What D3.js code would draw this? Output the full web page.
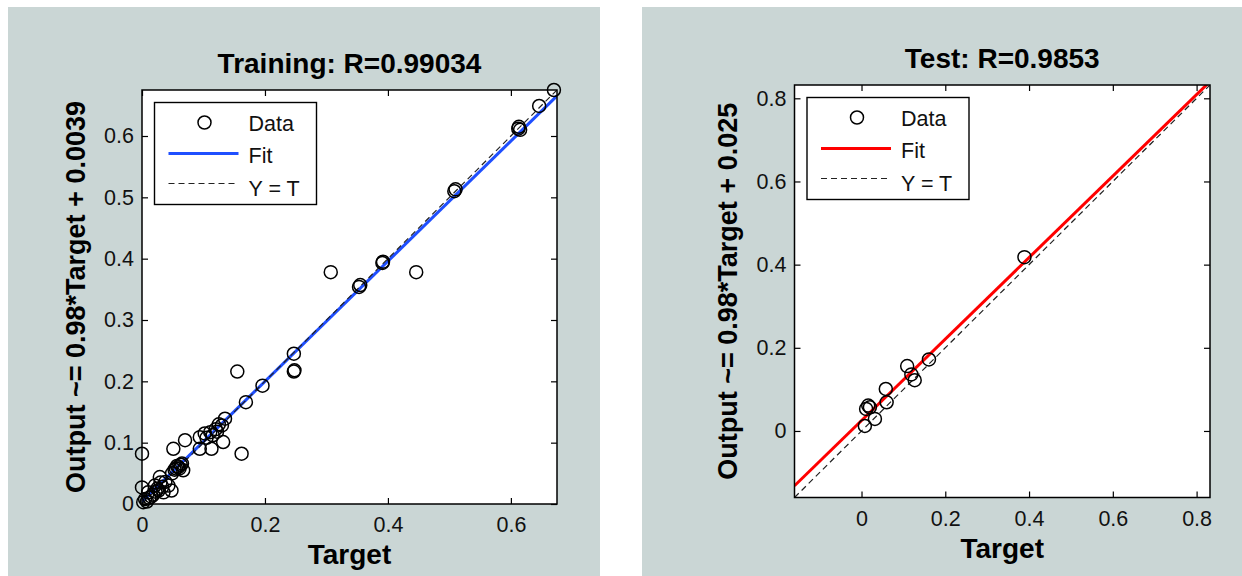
<!DOCTYPE html>
<html>
<head>
<meta charset="utf-8">
<script src="https://cdn.jsdelivr.net/npm/d3@7"></script>
<style>
  body { margin: 0; background: #fff; }
  svg { display: block; font-family: "Liberation Sans", Arial, Helvetica, sans-serif; }
</style>
</head>
<body>
<svg id="chart" width="1242" height="576"></svg>
<script>
// Training set: target vs network output
const trainTarget = [
  0.670, 0.646, 0.612, 0.615, 0.613, 0.508, 0.510, 0.307, 0.353, 0.355,
  0.391, 0.392, 0.446, 0.247, 0.247, 0.248, 0.155, 0.196, 0.169, 0.135,
  0.130, 0.111, 0.102, 0.120, 0.132, 0.113, 0.094, 0.070, 0.051, 0.162,
  0.000, 0.059, 0.067, 0.049, 0.063, 0.055, 0.029, 0.043, 0.021, 0.000,
  0.010, 0.002, 0.035, 0.048, 0.015, 0.025, 0.005, 0.030, 0.094, 0.105,
  0.057, 0.061, 0.065, 0.053, 0.018, 0.022, 0.027, 0.033, 0.012, 0.038,
  0.008, 0.122, 0.115, 0.125
];
const trainOutput = [
  0.675, 0.649, 0.612, 0.610, 0.615, 0.510, 0.513, 0.378, 0.354, 0.357,
  0.393, 0.395, 0.378, 0.245, 0.216, 0.218, 0.216, 0.193, 0.166, 0.139,
  0.128, 0.117, 0.115, 0.122, 0.101, 0.090, 0.090, 0.104, 0.090, 0.082,
  0.082, 0.060, 0.055, 0.050, 0.064, 0.058, 0.044, 0.030, 0.030, 0.027,
  0.019, 0.003, 0.019, 0.022, 0.012, 0.025, 0.008, 0.035, 0.109, 0.108,
  0.062, 0.058, 0.066, 0.056, 0.015, 0.020, 0.022, 0.028, 0.010, 0.036,
  0.004, 0.118, 0.112, 0.130
];

// Test set
const testTarget = [0.389, 0.161, 0.109, 0.119, 0.127, 0.058, 0.060, 0.016, 0.011, 0.032, 0.008, 0.020];
const testOutput = [0.418, 0.172, 0.156, 0.136, 0.122, 0.101, 0.069, 0.061, 0.053, 0.029, 0.012, 0.057];

// regression fits (from the axis labels)
const trainFit = { slope: 0.98, intercept: 0.0039 };
const testFit = { slope: 0.98, intercept: 0.025 };

// axis limits and ticks
const trainLimits = [0, 0.675];
const testLimits = [-0.16, 0.832];
const trainXTicks = [0, 0.2, 0.4, 0.6];
const trainYTicks = [0, 0.1, 0.2, 0.3, 0.4, 0.5, 0.6];
const testTicks = [0, 0.2, 0.4, 0.6, 0.8];

const legendLabels = ["Data", "Fit", "Y = T"];

const svg = d3.select("#chart");

function drawPanel(p) {
  const g = svg.append("g");

  // grey figure background
  g.append("rect")
    .attr("x", p.panel[0]).attr("y", p.panel[1])
    .attr("width", p.panel[2]).attr("height", p.panel[3])
    .attr("fill", "#cad6d5");

  const x = d3.scaleLinear().domain(p.limits).range([p.left, p.right]);
  const y = d3.scaleLinear().domain(p.limits).range([p.bottom, p.top]);

  // white axes area
  g.append("rect")
    .attr("x", p.left).attr("y", p.top)
    .attr("width", p.right - p.left).attr("height", p.bottom - p.top)
    .attr("fill", "#fff");

  const clipId = "clip-" + p.id;
  g.append("clipPath").attr("id", clipId)
    .append("rect")
    .attr("x", p.left).attr("y", p.top)
    .attr("width", p.right - p.left).attr("height", p.bottom - p.top);

  const fmt = d => d === 0 ? "0" : d3.format(".1f")(d);

  // axes with inward ticks on all four sides
  const styleAxis = sel => {
    sel.select(".domain").remove();
    sel.selectAll(".tick line").attr("stroke", "#000").attr("stroke-width", 1.2);
    sel.selectAll(".tick text").attr("fill", "#111").style("font-size", "21.5px");
  };
  g.append("g").attr("transform", `translate(0,${p.bottom})`)
    .call(d3.axisBottom(x).tickValues(p.xTicks).tickFormat(fmt).tickSizeInner(-6).tickSizeOuter(0).tickPadding(13))
    .call(styleAxis);
  g.append("g").attr("transform", `translate(${p.left},0)`)
    .call(d3.axisLeft(y).tickValues(p.yTicks).tickFormat(fmt).tickSizeInner(-6).tickSizeOuter(0).tickPadding(8))
    .call(styleAxis);
  g.append("g").attr("transform", `translate(0,${p.top})`)
    .call(d3.axisTop(x).tickValues(p.xTicks).tickFormat("").tickSizeInner(-6).tickSizeOuter(0))
    .call(styleAxis);
  g.append("g").attr("transform", `translate(${p.right},0)`)
    .call(d3.axisRight(y).tickValues(p.yTicks).tickFormat("").tickSizeInner(-6).tickSizeOuter(0))
    .call(styleAxis);

  // fit line
  const lineGen = d3.line().x(d => x(d[0])).y(d => y(d[1]));
  const fitPts = p.limits.map(t => [t, p.fit.slope * t + p.fit.intercept]);
  g.append("path")
    .attr("clip-path", `url(#${clipId})`)
    .attr("d", lineGen(fitPts))
    .attr("fill", "none").attr("stroke", p.color).attr("stroke-width", 3);

  // Y = T line
  g.append("path")
    .attr("clip-path", `url(#${clipId})`)
    .attr("d", lineGen(p.limits.map(t => [t, t])))
    .attr("fill", "none").attr("stroke", "#222").attr("stroke-width", 1.2)
    .attr("stroke-dasharray", "6,4");

  // data circles
  g.selectAll("circle.pt")
    .data(d3.zip(p.target, p.output))
    .join("circle")
    .attr("class", "pt")
    .attr("cx", d => x(d[0])).attr("cy", d => y(d[1]))
    .attr("r", 6.5)
    .attr("fill", "none").attr("stroke", "#000").attr("stroke-width", 1.5);

  // box
  g.append("rect")
    .attr("x", p.left).attr("y", p.top)
    .attr("width", p.right - p.left).attr("height", p.bottom - p.top)
    .attr("fill", "none").attr("stroke", "#000").attr("stroke-width", 1.5);

  // legend
  const lg = g.append("g").attr("transform", `translate(${p.left + 12.5},${p.top + 12.5})`);
  lg.append("rect").attr("width", 162).attr("height", 102)
    .attr("fill", "#fff").attr("stroke", "#000").attr("stroke-width", 1.4);
  lg.append("circle").attr("cx", 50).attr("cy", 20).attr("r", 6.5)
    .attr("fill", "none").attr("stroke", "#000").attr("stroke-width", 1.5);
  lg.append("line").attr("x1", 14).attr("x2", 84).attr("y1", 51).attr("y2", 51)
    .attr("stroke", p.color).attr("stroke-width", 3);
  lg.append("line").attr("x1", 14).attr("x2", 84).attr("y1", 81).attr("y2", 81)
    .attr("stroke", "#222").attr("stroke-width", 1.2).attr("stroke-dasharray", "6,4");
  lg.selectAll("text")
    .data(legendLabels)
    .join("text")
    .attr("x", 94)
    .attr("y", (d, i) => 28 + i * 32.5)
    .attr("fill", "#111")
    .style("font-size", "21.5px")
    .text(d => d);

  // title & labels
  const cx = (p.left + p.right) / 2;
  g.append("text")
    .attr("x", cx).attr("y", p.top - 17)
    .attr("text-anchor", "middle")
    .style("font-size", "28px").style("font-weight", "bold")
    .text(p.title);
  g.append("text")
    .attr("x", cx).attr("y", p.bottom + 60)
    .attr("text-anchor", "middle")
    .style("font-size", "28px").style("font-weight", "bold")
    .text("Target");
  g.append("text")
    .attr("transform", `translate(${p.ylabelX},${(p.top + p.bottom) / 2}) rotate(-90)`)
    .attr("text-anchor", "middle")
    .style("font-size", "27px").style("font-weight", "bold")
    .text(p.ylabel);
}

drawPanel({
  id: "train",
  panel: [8, 7, 592, 569],
  left: 142, right: 557, top: 90, bottom: 504,
  limits: trainLimits, xTicks: trainXTicks, yTicks: trainYTicks,
  target: trainTarget, output: trainOutput, fit: trainFit,
  color: "#1f4fff",
  title: "Training: R=0.99034",
  ylabel: "Output ~= 0.98*Target + 0.0039",
  ylabelX: 85
});

drawPanel({
  id: "test",
  panel: [642, 7, 600, 569],
  left: 794.5, right: 1210, top: 85, bottom: 497.5,
  limits: testLimits, xTicks: testTicks, yTicks: testTicks,
  target: testTarget, output: testOutput, fit: testFit,
  color: "#ff0000",
  title: "Test: R=0.9853",
  ylabel: "Output ~= 0.98*Target + 0.025",
  ylabelX: 737
});
</script>
</body>
</html>
